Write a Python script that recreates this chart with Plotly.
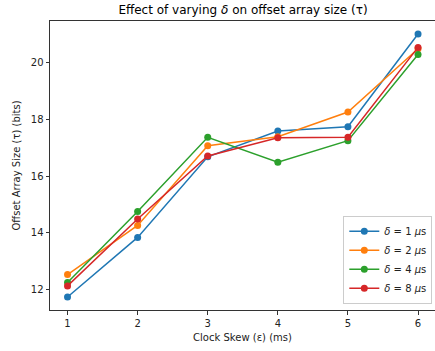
import plotly.graph_objects as go

clock_skew = [1, 2, 3, 4, 5, 6]
series_names = ["<i>δ</i> = 1 <i>μ</i>s", "<i>δ</i> = 2 <i>μ</i>s", "<i>δ</i> = 4 <i>μ</i>s", "<i>δ</i> = 8 <i>μ</i>s"]
delta_1 = [11.74, 13.84, 16.68, 17.59, 17.74, 21.01]
delta_2 = [12.53, 14.26, 17.07, 17.39, 18.26, 20.49]
delta_4 = [12.25, 14.75, 17.37, 16.49, 17.25, 20.29]
delta_8 = [12.13, 14.49, 16.71, 17.35, 17.37, 20.54]
colors = ["#1f77b4", "#ff7f0e", "#2ca02c", "#d62728"]
y_ticks = [12, 14, 16, 18, 20]

fig = go.Figure()
for name, vals, c in zip(series_names, [delta_1, delta_2, delta_4, delta_8], colors):
    fig.add_trace(go.Scatter(x=clock_skew, y=vals, mode="lines+markers", name=name,
                             line=dict(color=c, width=1.5),
                             marker=dict(color=c, size=7)))

font = "DejaVu Sans"
fig.update_layout(
    width=435, height=351,
    margin=dict(l=50, r=0, t=21, b=41),
    plot_bgcolor="white", paper_bgcolor="white",
    font=dict(family=font, size=10, color="#222"),
    title=dict(text="Effect of varying <i>δ</i> on offset array size (τ)",
               x=(50 + 436) / 2 / 435, xanchor="center", y=1 - 10 / 351, yanchor="middle",
               font=dict(size=12, family=font, color="black")),
    xaxis=dict(range=[0.75, 6.242], tickvals=clock_skew, showgrid=False, zeroline=False,
               showline=True, linecolor="#333", linewidth=1, mirror=True,
               ticks="outside", ticklen=3.5, tickcolor="#333",
               title=dict(text="Clock Skew (ε) (ms)", standoff=6, font=dict(size=10))),
    yaxis=dict(range=[11.28, 21.47], tickvals=y_ticks, showgrid=False, zeroline=False,
               showline=True, linecolor="#333", linewidth=1, mirror=True,
               ticks="outside", ticklen=3.5, tickcolor="#333",
               title=dict(text="Offset Array Size (τ) (bits)", standoff=8, font=dict(size=10))),
    legend=dict(x=0.993, y=0.022, xanchor="right", yanchor="bottom",
                bgcolor="rgba(255,255,255,0.8)", bordercolor="#ccc", borderwidth=1,
                font=dict(size=10), tracegroupgap=0, itemwidth=30),
    showlegend=True,
)

fig.write_html("out.html")
